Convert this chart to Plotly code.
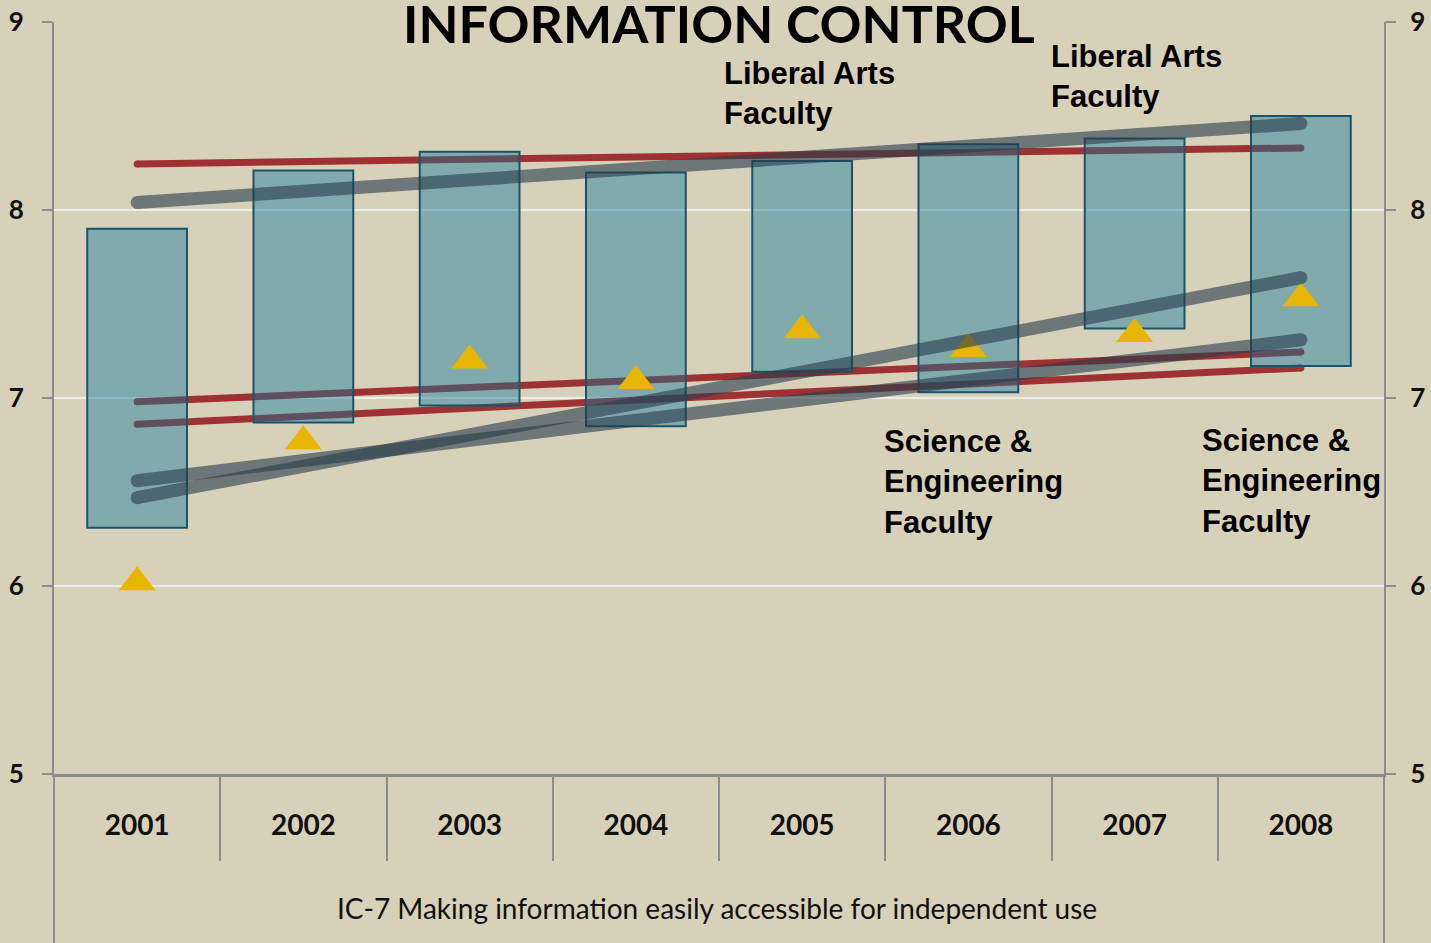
import plotly.graph_objects as go

years = ["2001", "2002", "2003", "2004", "2005", "2006", "2007", "2008"]
range_low = [6.31, 6.87, 6.96, 6.85, 7.14, 7.03, 7.37, 7.17]
range_high = [7.90, 8.21, 8.31, 8.20, 8.26, 8.35, 8.38, 8.50]
overall = [6.02, 6.77, 7.20, 7.09, 7.36, 7.26, 7.34, 7.53]

# trend lines, first and last year
trend_years = ["2001", "2008"]
red_upper = [8.245, 8.33]
red_mid = [6.98, 7.245]
red_low = [6.86, 7.16]
gray_upper = [8.04, 8.46]
gray_mid = [6.56, 7.31]
gray_low = [6.47, 7.64]

y_ticks = [5, 6, 7, 8, 9]

BG = "#d8d1ba"
AXIS = "#8c8c8c"
RED = "rgb(158,50,50)"
SLATE = "rgb(40,60,75)"

fig = go.Figure()

# red trend lines sit underneath the bars (base subplot)
for vals in [red_upper, red_mid, red_low]:
    fig.add_trace(go.Scatter(x=trend_years, y=vals, mode="lines+markers",
                             line=dict(color=RED, width=7),
                             marker=dict(color=RED, size=7),
                             xaxis="x", yaxis="y", hoverinfo="skip"))

# min-max ranges as floating bars on the overlay subplot
fig.add_trace(go.Bar(x=years, y=[h - l for h, l in zip(range_high, range_low)],
                     base=range_low, width=0.6,
                     marker=dict(color="rgba(14,118,154,0.43)",
                                 line=dict(color="#1b5368", width=2)),
                     xaxis="x2", yaxis="y2"))

fig.add_trace(go.Scatter(x=years, y=overall, mode="markers",
                         marker=dict(symbol="triangle-up", size=32, color="#e8b600",
                                     line=dict(width=0)),
                         xaxis="x2", yaxis="y2"))

for vals in [gray_upper, gray_mid, gray_low]:
    fig.add_trace(go.Scatter(x=trend_years, y=vals, mode="lines+markers",
                             line=dict(color=SLATE, width=13),
                             marker=dict(color=SLATE, size=13),
                             opacity=0.6, xaxis="x2", yaxis="y2", hoverinfo="skip"))

tick_font = dict(family="Lato", size=26, color="#111111", weight="bold")

fig.update_layout(
    width=1431, height=943,
    margin=dict(l=54, r=47, t=22, b=169, autoexpand=False),
    paper_bgcolor=BG, plot_bgcolor=BG,
    showlegend=False,
    barmode="overlay",
    xaxis=dict(type="category", categoryarray=years, range=[-0.5, 7.5],
               showline=True, linecolor=AXIS, linewidth=3, ticks="",
               showgrid=False, tickfont=dict(tick_font, size=28),
               ticklabelstandoff=24, automargin=False),
    xaxis2=dict(type="category", categoryarray=years, range=[-0.5, 7.5],
                overlaying="x", anchor="y2", side="bottom",
                showline=False, showgrid=False, showticklabels=False,
                ticks="outside", tickson="boundaries", ticklen=86,
                tickwidth=2, tickcolor=AXIS, automargin=False),
    yaxis=dict(range=[5, 9], tickvals=y_ticks, showgrid=True,
               gridcolor="rgba(240,240,238,0.9)", gridwidth=2, zeroline=False,
               showline=True, linecolor=AXIS, linewidth=2,
               ticks="outside", ticklen=10, tickwidth=2, tickcolor=AXIS,
               tickfont=tick_font, ticklabelstandoff=13, automargin=False),
    yaxis2=dict(range=[5, 9], tickvals=y_ticks, overlaying="y", side="right",
                anchor="x2", showgrid=False, zeroline=False,
                showline=True, linecolor=AXIS, linewidth=2,
                ticks="outside", ticklen=10, tickwidth=2, tickcolor=AXIS,
                tickfont=tick_font, ticklabelstandoff=9, automargin=False),
)

# frame lines continuing below the axis
for xp in [0, 1]:
    fig.add_shape(type="line", xref="paper", yref="paper", x0=xp, x1=xp,
                  y0=0, y1=-0.23, line=dict(color=AXIS, width=2))

label_font = dict(family="Liberation Sans", size=31, color="#000000", weight="bold")
notes = [
    ("Liberal Arts<br>Faculty", 0.5025, 0.958),
    ("Liberal Arts<br>Faculty", 0.7484, 0.980),
    ("Science &<br>Engineering<br>Faculty", 0.6228, 0.468),
    ("Science &<br>Engineering<br>Faculty", 0.8619, 0.470),
]
for text, xp, yp in notes:
    fig.add_annotation(text=text, x=xp, y=yp, xref="paper", yref="paper",
                       xanchor="left", yanchor="top", align="left",
                       showarrow=False, font=label_font)

fig.add_annotation(text="INFORMATION CONTROL", x=0.5, y=0.9545, xref="paper", yref="paper",
                   xanchor="center", yanchor="bottom", showarrow=False,
                   font=dict(family="Lato", size=52, color="#000000", weight="bold"))

fig.add_annotation(text="IC-7 Making information easily accessible for independent use",
                   x=0.4985, y=-0.178, xref="paper", yref="paper",
                   xanchor="center", yanchor="middle", showarrow=False,
                   font=dict(family="Lato", size=28, color="#111111"))

fig.write_html("out.html", config={"displayModeBar": False},
               post_script="document.body.style.margin='0';")
